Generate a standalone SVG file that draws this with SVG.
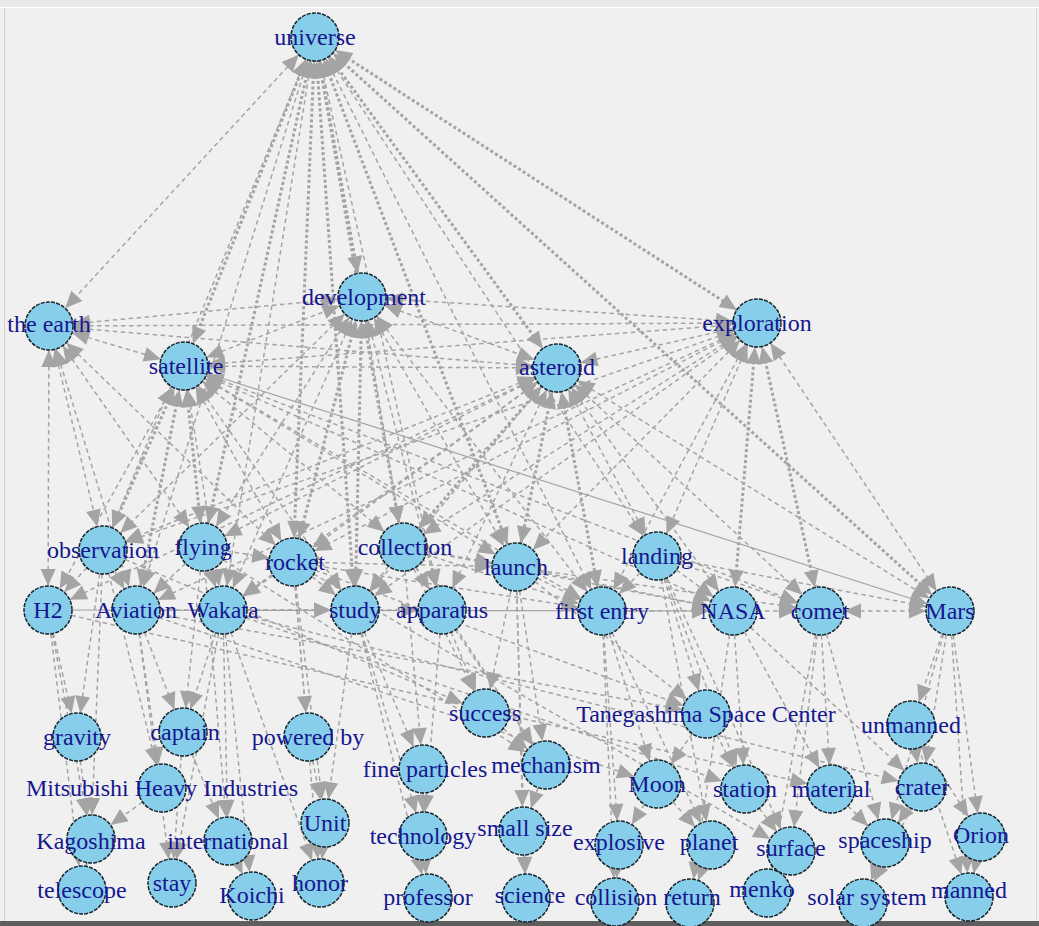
<svg xmlns="http://www.w3.org/2000/svg" width="1039" height="926" viewBox="0 0 1039 926">
<style>
.bg{fill:#f0f0f0}
line{stroke:#a4a4a4;fill:none}
.d{stroke-width:1.5;stroke-dasharray:4.5 3.5}
.t{stroke-width:3;stroke-dasharray:3 2.5}
.s{stroke-width:1.2}
.b{marker-start:url(#a);marker-end:url(#a)}
.e{marker-end:url(#a)}
.n circle{fill:#87ceeb;stroke:#1a252b;stroke-width:1.5;stroke-dasharray:4 1.2}
.n text{font-family:"Liberation Serif","Times New Roman",serif;font-size:24px;fill:#16168f;text-anchor:middle}
</style>
<defs>
<marker id="a" markerUnits="userSpaceOnUse" markerWidth="18" markerHeight="16" refX="41" refY="8" orient="auto-start-reverse" overflow="visible">
<path d="M0,0.5 L17,8 L0,15.5 z" fill="#a4a4a4" stroke="none"/>
</marker>
</defs>
<rect class="bg" x="0" y="0" width="1039" height="926"/>
<rect x="0" y="0" width="1039" height="7" fill="#e9e9e9"/>
<line x1="0" y1="7.5" x2="1039" y2="7.5" style="stroke:#ffffff;stroke-width:1"/>
<line x1="4.5" y1="8" x2="4.5" y2="921" style="stroke:#d0d0d0;stroke-width:1"/>
<line x1="1036.5" y1="8" x2="1036.5" y2="921" style="stroke:#d8d8d8;stroke-width:1"/>
<rect x="0" y="921" width="1039" height="5" fill="#5e5e5e"/>
<g id="edges">
<line class="d b" x1="315" y1="37" x2="49" y2="326"/>
<line class="t b" x1="315" y1="37" x2="184" y2="366"/>
<line class="t b" x1="315" y1="37" x2="362" y2="297"/>
<line class="t b" x1="315" y1="37" x2="557" y2="368"/>
<line class="t b" x1="315" y1="37" x2="757" y2="323"/>
<line class="d b" x1="315" y1="37" x2="103" y2="550"/>
<line class="t b" x1="315" y1="37" x2="203" y2="547"/>
<line class="t b" x1="315" y1="37" x2="293" y2="562"/>
<line class="t b" x1="315" y1="37" x2="355" y2="610"/>
<line class="t b" x1="315" y1="37" x2="403" y2="547"/>
<line class="t b" x1="315" y1="37" x2="516" y2="567"/>
<line class="d b" x1="315" y1="37" x2="602" y2="611"/>
<line class="d b" x1="315" y1="37" x2="442" y2="610"/>
<line class="d b" x1="315" y1="37" x2="223" y2="610"/>
<line class="d b" x1="315" y1="37" x2="136" y2="610"/>
<line class="d b" x1="315" y1="37" x2="657" y2="556"/>
<line class="t b" x1="315" y1="37" x2="950" y2="611"/>
<line class="d b" x1="49" y1="326" x2="184" y2="366"/>
<line class="d b" x1="49" y1="326" x2="362" y2="297"/>
<line class="d b" x1="49" y1="326" x2="557" y2="368"/>
<line class="d b" x1="49" y1="326" x2="757" y2="323"/>
<line class="d b" x1="49" y1="326" x2="103" y2="550"/>
<line class="d b" x1="49" y1="326" x2="48" y2="610"/>
<line class="d b" x1="49" y1="326" x2="136" y2="610"/>
<line class="d b" x1="49" y1="326" x2="203" y2="547"/>
<line class="d b" x1="49" y1="326" x2="293" y2="562"/>
<line class="d b" x1="184" y1="366" x2="362" y2="297"/>
<line class="d b" x1="184" y1="366" x2="557" y2="368"/>
<line class="d b" x1="184" y1="366" x2="757" y2="323"/>
<line class="t b" x1="184" y1="366" x2="103" y2="550"/>
<line class="t b" x1="184" y1="366" x2="203" y2="547"/>
<line class="d b" x1="184" y1="366" x2="48" y2="610"/>
<line class="t b" x1="184" y1="366" x2="136" y2="610"/>
<line class="d b" x1="184" y1="366" x2="223" y2="610"/>
<line class="d b" x1="184" y1="366" x2="293" y2="562"/>
<line class="d b" x1="184" y1="366" x2="355" y2="610"/>
<line class="d b" x1="184" y1="366" x2="403" y2="547"/>
<line class="d b" x1="184" y1="366" x2="516" y2="567"/>
<line class="d b" x1="184" y1="366" x2="602" y2="611"/>
<line class="d b" x1="184" y1="366" x2="733" y2="611"/>
<line class="s e" x1="184" y1="366" x2="950" y2="611"/>
<line class="d b" x1="184" y1="366" x2="820" y2="611"/>
<line class="d b" x1="362" y1="297" x2="557" y2="368"/>
<line class="d b" x1="362" y1="297" x2="757" y2="323"/>
<line class="t b" x1="362" y1="297" x2="293" y2="562"/>
<line class="t b" x1="362" y1="297" x2="355" y2="610"/>
<line class="d b" x1="362" y1="297" x2="403" y2="547"/>
<line class="d b" x1="362" y1="297" x2="516" y2="567"/>
<line class="d b" x1="362" y1="297" x2="442" y2="610"/>
<line class="d b" x1="362" y1="297" x2="602" y2="611"/>
<line class="d b" x1="362" y1="297" x2="203" y2="547"/>
<line class="d b" x1="362" y1="297" x2="223" y2="610"/>
<line class="d b" x1="362" y1="297" x2="103" y2="550"/>
<line class="d b" x1="557" y1="368" x2="757" y2="323"/>
<line class="t b" x1="557" y1="368" x2="403" y2="547"/>
<line class="t b" x1="557" y1="368" x2="516" y2="567"/>
<line class="d b" x1="557" y1="368" x2="657" y2="556"/>
<line class="t b" x1="557" y1="368" x2="602" y2="611"/>
<line class="d b" x1="557" y1="368" x2="442" y2="610"/>
<line class="d b" x1="557" y1="368" x2="733" y2="611"/>
<line class="d b" x1="557" y1="368" x2="820" y2="611"/>
<line class="d b" x1="557" y1="368" x2="950" y2="611"/>
<line class="d b" x1="557" y1="368" x2="355" y2="610"/>
<line class="d b" x1="557" y1="368" x2="293" y2="562"/>
<line class="d b" x1="557" y1="368" x2="223" y2="610"/>
<line class="d b" x1="557" y1="368" x2="203" y2="547"/>
<line class="d b" x1="557" y1="368" x2="103" y2="550"/>
<line class="d b" x1="557" y1="368" x2="48" y2="610"/>
<line class="d b" x1="757" y1="323" x2="657" y2="556"/>
<line class="t b" x1="757" y1="323" x2="733" y2="611"/>
<line class="t b" x1="757" y1="323" x2="820" y2="611"/>
<line class="d b" x1="757" y1="323" x2="950" y2="611"/>
<line class="d b" x1="757" y1="323" x2="602" y2="611"/>
<line class="d b" x1="757" y1="323" x2="516" y2="567"/>
<line class="d b" x1="757" y1="323" x2="403" y2="547"/>
<line class="d b" x1="757" y1="323" x2="293" y2="562"/>
<line class="d b" x1="757" y1="323" x2="355" y2="610"/>
<line class="d b" x1="757" y1="323" x2="103" y2="550"/>
<line class="d b" x1="757" y1="323" x2="136" y2="610"/>
<line class="d e" x1="103" y1="550" x2="48" y2="610"/>
<line class="d e" x1="103" y1="550" x2="136" y2="610"/>
<line class="d e" x1="203" y1="547" x2="136" y2="610"/>
<line class="d e" x1="203" y1="547" x2="223" y2="610"/>
<line class="d e" x1="203" y1="547" x2="293" y2="562"/>
<line class="d e" x1="293" y1="562" x2="223" y2="610"/>
<line class="d e" x1="293" y1="562" x2="355" y2="610"/>
<line class="d e" x1="293" y1="562" x2="516" y2="567"/>
<line class="d e" x1="293" y1="562" x2="602" y2="611"/>
<line class="d e" x1="403" y1="547" x2="355" y2="610"/>
<line class="d e" x1="403" y1="547" x2="442" y2="610"/>
<line class="d e" x1="403" y1="547" x2="516" y2="567"/>
<line class="d e" x1="403" y1="547" x2="602" y2="611"/>
<line class="d e" x1="403" y1="547" x2="733" y2="611"/>
<line class="d e" x1="516" y1="567" x2="602" y2="611"/>
<line class="d e" x1="516" y1="567" x2="733" y2="611"/>
<line class="d e" x1="516" y1="567" x2="820" y2="611"/>
<line class="d e" x1="657" y1="556" x2="602" y2="611"/>
<line class="d e" x1="657" y1="556" x2="733" y2="611"/>
<line class="d e" x1="657" y1="556" x2="820" y2="611"/>
<line class="d e" x1="657" y1="556" x2="950" y2="611"/>
<line class="d e" x1="602" y1="611" x2="733" y2="611"/>
<line class="d e" x1="733" y1="611" x2="820" y2="611"/>
<line class="d b" x1="820" y1="611" x2="950" y2="611"/>
<line class="d e" x1="136" y1="610" x2="355" y2="610"/>
<line class="d e" x1="223" y1="610" x2="355" y2="610"/>
<line class="d e" x1="355" y1="610" x2="442" y2="610"/>
<line class="s e" x1="48" y1="610" x2="733" y2="611"/>
<line class="d e" x1="103" y1="550" x2="77" y2="737"/>
<line class="d e" x1="103" y1="550" x2="91" y2="839"/>
<line class="d e" x1="103" y1="550" x2="162" y2="788"/>
<line class="d e" x1="48" y1="610" x2="77" y2="737"/>
<line class="d e" x1="48" y1="610" x2="91" y2="839"/>
<line class="d e" x1="48" y1="610" x2="82" y2="890"/>
<line class="d e" x1="136" y1="610" x2="183" y2="732"/>
<line class="d e" x1="136" y1="610" x2="162" y2="788"/>
<line class="d e" x1="136" y1="610" x2="172" y2="883"/>
<line class="d e" x1="223" y1="610" x2="183" y2="732"/>
<line class="d e" x1="223" y1="610" x2="228" y2="841"/>
<line class="d e" x1="223" y1="610" x2="252" y2="896"/>
<line class="d e" x1="223" y1="610" x2="172" y2="883"/>
<line class="d e" x1="223" y1="610" x2="320" y2="883"/>
<line class="d e" x1="203" y1="547" x2="183" y2="732"/>
<line class="d e" x1="203" y1="547" x2="228" y2="841"/>
<line class="d e" x1="293" y1="562" x2="308" y2="737"/>
<line class="d e" x1="293" y1="562" x2="325" y2="823"/>
<line class="d e" x1="293" y1="562" x2="320" y2="883"/>
<line class="d e" x1="293" y1="562" x2="706" y2="714"/>
<line class="d e" x1="355" y1="610" x2="423" y2="769"/>
<line class="d e" x1="355" y1="610" x2="423" y2="836"/>
<line class="d e" x1="355" y1="610" x2="428" y2="898"/>
<line class="d e" x1="355" y1="610" x2="325" y2="823"/>
<line class="d e" x1="442" y1="610" x2="485" y2="713"/>
<line class="d e" x1="442" y1="610" x2="546" y2="765"/>
<line class="d e" x1="442" y1="610" x2="423" y2="836"/>
<line class="d e" x1="403" y1="547" x2="485" y2="713"/>
<line class="d e" x1="403" y1="547" x2="423" y2="769"/>
<line class="d e" x1="403" y1="547" x2="546" y2="765"/>
<line class="d e" x1="516" y1="567" x2="485" y2="713"/>
<line class="d e" x1="516" y1="567" x2="706" y2="714"/>
<line class="d e" x1="516" y1="567" x2="546" y2="765"/>
<line class="d e" x1="516" y1="567" x2="523" y2="831"/>
<line class="d e" x1="516" y1="567" x2="526" y2="898"/>
<line class="d e" x1="602" y1="611" x2="657" y2="784"/>
<line class="d e" x1="602" y1="611" x2="619" y2="845"/>
<line class="d e" x1="602" y1="611" x2="615" y2="902"/>
<line class="d e" x1="602" y1="611" x2="711" y2="845"/>
<line class="d e" x1="657" y1="556" x2="706" y2="714"/>
<line class="d e" x1="657" y1="556" x2="745" y2="789"/>
<line class="d e" x1="657" y1="556" x2="711" y2="845"/>
<line class="d e" x1="657" y1="556" x2="791" y2="851"/>
<line class="d e" x1="733" y1="611" x2="745" y2="789"/>
<line class="d e" x1="733" y1="611" x2="831" y2="789"/>
<line class="d e" x1="733" y1="611" x2="922" y2="787"/>
<line class="d e" x1="733" y1="611" x2="690" y2="903"/>
<line class="d e" x1="820" y1="611" x2="831" y2="789"/>
<line class="d e" x1="820" y1="611" x2="791" y2="851"/>
<line class="d e" x1="820" y1="611" x2="885" y2="843"/>
<line class="d e" x1="820" y1="611" x2="767" y2="893"/>
<line class="d e" x1="950" y1="611" x2="911" y2="725"/>
<line class="d e" x1="950" y1="611" x2="922" y2="787"/>
<line class="d e" x1="950" y1="611" x2="981" y2="837"/>
<line class="d e" x1="950" y1="611" x2="969" y2="897"/>
<line class="d e" x1="950" y1="611" x2="885" y2="843"/>
<line class="d e" x1="136" y1="610" x2="706" y2="714"/>
<line class="d e" x1="223" y1="610" x2="745" y2="789"/>
<line class="d e" x1="48" y1="610" x2="831" y2="789"/>
<line class="d e" x1="103" y1="550" x2="485" y2="713"/>
<line class="d e" x1="203" y1="547" x2="546" y2="765"/>
<line class="d e" x1="136" y1="610" x2="657" y2="784"/>
<line class="d e" x1="223" y1="610" x2="922" y2="787"/>
<line class="d e" x1="293" y1="562" x2="791" y2="851"/>
<line class="d e" x1="77" y1="737" x2="91" y2="839"/>
<line class="d e" x1="162" y1="788" x2="91" y2="839"/>
<line class="d e" x1="91" y1="839" x2="82" y2="890"/>
<line class="d e" x1="183" y1="732" x2="228" y2="841"/>
<line class="d e" x1="183" y1="732" x2="172" y2="883"/>
<line class="d e" x1="228" y1="841" x2="252" y2="896"/>
<line class="d e" x1="308" y1="737" x2="325" y2="823"/>
<line class="d e" x1="325" y1="823" x2="320" y2="883"/>
<line class="d e" x1="423" y1="769" x2="423" y2="836"/>
<line class="d e" x1="423" y1="836" x2="428" y2="898"/>
<line class="d e" x1="485" y1="713" x2="546" y2="765"/>
<line class="d e" x1="546" y1="765" x2="523" y2="831"/>
<line class="d e" x1="523" y1="831" x2="526" y2="898"/>
<line class="d e" x1="706" y1="714" x2="657" y2="784"/>
<line class="d e" x1="706" y1="714" x2="745" y2="789"/>
<line class="d e" x1="657" y1="784" x2="711" y2="845"/>
<line class="d e" x1="657" y1="784" x2="619" y2="845"/>
<line class="d e" x1="619" y1="845" x2="615" y2="902"/>
<line class="d e" x1="711" y1="845" x2="690" y2="903"/>
<line class="d e" x1="791" y1="851" x2="767" y2="893"/>
<line class="d e" x1="745" y1="789" x2="791" y2="851"/>
<line class="d e" x1="831" y1="789" x2="885" y2="843"/>
<line class="d e" x1="922" y1="787" x2="885" y2="843"/>
<line class="d e" x1="885" y1="843" x2="863" y2="903"/>
<line class="d e" x1="922" y1="787" x2="863" y2="903"/>
<line class="d e" x1="911" y1="725" x2="922" y2="787"/>
<line class="d e" x1="911" y1="725" x2="981" y2="837"/>
<line class="d e" x1="911" y1="725" x2="969" y2="897"/>
<line class="d e" x1="981" y1="837" x2="969" y2="897"/>
</g>
<g id="nodes">
<g id="n-universe" class="n"><circle cx="315" cy="37" r="24"/><text x="315" y="45">universe</text></g>
<g id="n-development" class="n"><circle cx="362" cy="297" r="24"/><text x="364" y="305">development</text></g>
<g id="n-the-earth" class="n"><circle cx="49" cy="326" r="24"/><text x="49" y="332">the earth</text></g>
<g id="n-satellite" class="n"><circle cx="184" cy="366" r="24"/><text x="186" y="374">satellite</text></g>
<g id="n-asteroid" class="n"><circle cx="557" cy="368" r="24"/><text x="557" y="375">asteroid</text></g>
<g id="n-exploration" class="n"><circle cx="757" cy="323" r="24"/><text x="757" y="331">exploration</text></g>
<g id="n-observation" class="n"><circle cx="103" cy="550" r="24"/><text x="103" y="558">observation</text></g>
<g id="n-flying" class="n"><circle cx="203" cy="547" r="24"/><text x="203" y="555">flying</text></g>
<g id="n-rocket" class="n"><circle cx="293" cy="562" r="24"/><text x="295" y="570">rocket</text></g>
<g id="n-collection" class="n"><circle cx="403" cy="547" r="24"/><text x="405" y="555">collection</text></g>
<g id="n-launch" class="n"><circle cx="516" cy="567" r="24"/><text x="516" y="575">launch</text></g>
<g id="n-landing" class="n"><circle cx="657" cy="556" r="24"/><text x="657" y="564">landing</text></g>
<g id="n-H2" class="n"><circle cx="48" cy="610" r="24"/><text x="48" y="618">H2</text></g>
<g id="n-Aviation" class="n"><circle cx="136" cy="610" r="24"/><text x="136" y="618">Aviation</text></g>
<g id="n-Wakata" class="n"><circle cx="223" cy="610" r="24"/><text x="223" y="618">Wakata</text></g>
<g id="n-study" class="n"><circle cx="355" cy="610" r="24"/><text x="355" y="618">study</text></g>
<g id="n-apparatus" class="n"><circle cx="442" cy="610" r="24"/><text x="442" y="618">apparatus</text></g>
<g id="n-first-entry" class="n"><circle cx="602" cy="611" r="24"/><text x="602" y="619">first entry</text></g>
<g id="n-NASA" class="n"><circle cx="733" cy="611" r="24"/><text x="733" y="619">NASA</text></g>
<g id="n-comet" class="n"><circle cx="820" cy="611" r="24"/><text x="820" y="619">comet</text></g>
<g id="n-Mars" class="n"><circle cx="950" cy="611" r="24"/><text x="950" y="619">Mars</text></g>
<g id="n-gravity" class="n"><circle cx="77" cy="737" r="24"/><text x="77" y="745">gravity</text></g>
<g id="n-captain" class="n"><circle cx="183" cy="732" r="24"/><text x="185" y="740">captain</text></g>
<g id="n-powered-by" class="n"><circle cx="308" cy="737" r="24"/><text x="308" y="745">powered by</text></g>
<g id="n-success" class="n"><circle cx="485" cy="713" r="24"/><text x="485" y="721">success</text></g>
<g id="n-Tanegashima" class="n"><circle cx="706" cy="714" r="24"/><text x="706" y="722">Tanegashima Space Center</text></g>
<g id="n-unmanned" class="n"><circle cx="911" cy="725" r="24"/><text x="911" y="733">unmanned</text></g>
<g id="n-Mitsubishi" class="n"><circle cx="162" cy="788" r="24"/><text x="162" y="796">Mitsubishi Heavy Industries</text></g>
<g id="n-fine-particles" class="n"><circle cx="423" cy="769" r="24"/><text x="425" y="777">fine particles</text></g>
<g id="n-mechanism" class="n"><circle cx="546" cy="765" r="24"/><text x="546" y="773">mechanism</text></g>
<g id="n-Moon" class="n"><circle cx="657" cy="784" r="24"/><text x="657" y="792">Moon</text></g>
<g id="n-station" class="n"><circle cx="745" cy="789" r="24"/><text x="745" y="797">station</text></g>
<g id="n-material" class="n"><circle cx="831" cy="789" r="24"/><text x="831" y="797">material</text></g>
<g id="n-crater" class="n"><circle cx="922" cy="787" r="24"/><text x="922" y="795">crater</text></g>
<g id="n-Unit" class="n"><circle cx="325" cy="823" r="24"/><text x="325" y="831">Unit</text></g>
<g id="n-Kagoshima" class="n"><circle cx="91" cy="839" r="24"/><text x="91" y="849">Kagoshima</text></g>
<g id="n-international" class="n"><circle cx="228" cy="841" r="24"/><text x="228" y="849">international</text></g>
<g id="n-technology" class="n"><circle cx="423" cy="836" r="24"/><text x="423" y="844">technology</text></g>
<g id="n-small-size" class="n"><circle cx="523" cy="831" r="24"/><text x="525" y="836">small size</text></g>
<g id="n-explosive" class="n"><circle cx="619" cy="845" r="24"/><text x="619" y="850">explosive</text></g>
<g id="n-planet" class="n"><circle cx="711" cy="845" r="24"/><text x="709" y="850">planet</text></g>
<g id="n-surface" class="n"><circle cx="791" cy="851" r="24"/><text x="791" y="856">surface</text></g>
<g id="n-spaceship" class="n"><circle cx="885" cy="843" r="24"/><text x="885" y="848">spaceship</text></g>
<g id="n-Orion" class="n"><circle cx="981" cy="837" r="24"/><text x="981" y="843">Orion</text></g>
<g id="n-telescope" class="n"><circle cx="82" cy="890" r="24"/><text x="82" y="898">telescope</text></g>
<g id="n-stay" class="n"><circle cx="172" cy="883" r="24"/><text x="172" y="891">stay</text></g>
<g id="n-Koichi" class="n"><circle cx="252" cy="896" r="24"/><text x="252" y="903">Koichi</text></g>
<g id="n-honor" class="n"><circle cx="320" cy="883" r="24"/><text x="320" y="891">honor</text></g>
<g id="n-professor" class="n"><circle cx="428" cy="898" r="24"/><text x="428" y="905">professor</text></g>
<g id="n-science" class="n"><circle cx="526" cy="898" r="24"/><text x="530" y="903">science</text></g>
<g id="n-collision" class="n"><circle cx="615" cy="902" r="24"/><text x="616" y="905">collision</text></g>
<g id="n-return" class="n"><circle cx="690" cy="903" r="24"/><text x="692" y="905">return</text></g>
<g id="n-menko" class="n"><circle cx="767" cy="893" r="24"/><text x="762" y="897">menko</text></g>
<g id="n-solar-system" class="n"><circle cx="863" cy="903" r="24"/><text x="867" y="905">solar system</text></g>
<g id="n-manned" class="n"><circle cx="969" cy="897" r="24"/><text x="969" y="898">manned</text></g>
</g>
</svg>
